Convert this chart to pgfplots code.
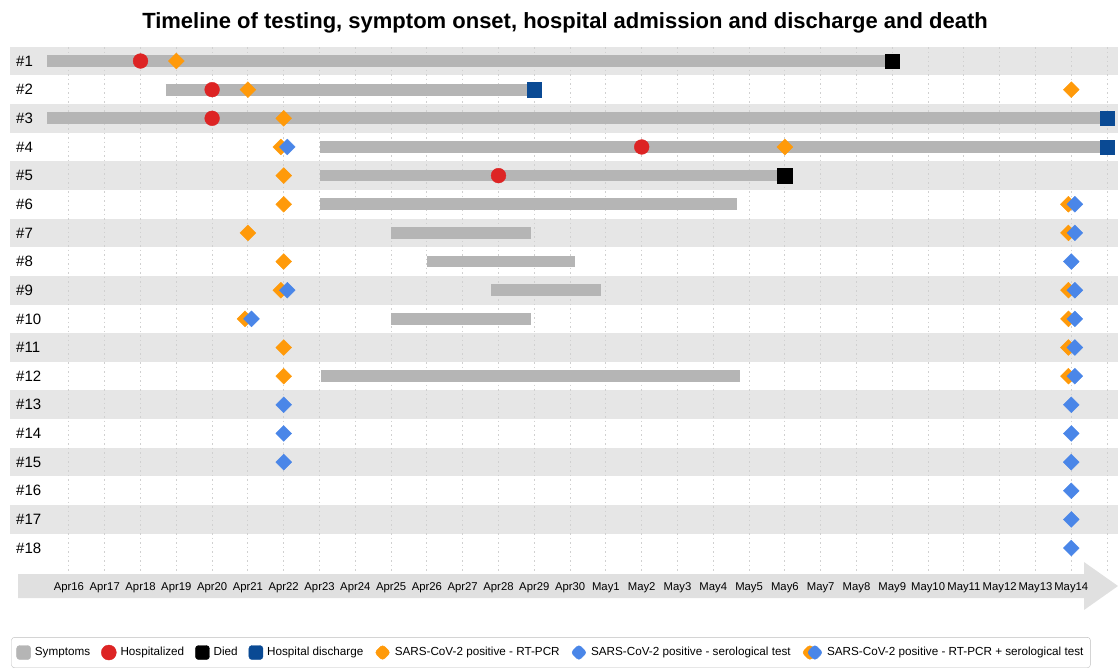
\documentclass[border=0pt]{standalone}
\usepackage{pgfplots}
\pgfplotsset{compat=1.18}
\usepackage{fontspec}
\setmainfont{Liberation Sans}
\definecolor{symcol}{HTML}{B5B5B5}
\definecolor{bandcol}{HTML}{E6E6E6}
\definecolor{arrowcol}{HTML}{E0E0E0}
\definecolor{hospred}{HTML}{DD2424}
\definecolor{rtorange}{HTML}{FF9A0A}
\definecolor{seroblue}{HTML}{4A86E8}
\definecolor{dischblue}{HTML}{0A4A94}
\definecolor{gridcol}{HTML}{D0D0D0}
\definecolor{legframe}{HTML}{BDBDBD}
\begin{document}
\begin{tikzpicture}
% background (pixel units, origin at top-left)
\begin{scope}[x=1pt,y=-1pt]
\foreach \r in {1,3,...,17}{
  \fill[bandcol] (10,{61+(\r-1)*28.65-14.33}) rectangle (1118,{61+(\r-1)*28.65+14.33});
}
\fill[arrowcol] (18,574) -- (1084,574) -- (1084,562) -- (1118,586) -- (1084,610) -- (1084,598) -- (18,598) -- cycle;
\end{scope}
\begin{axis}[
  name=main, at={(0pt,0pt)}, anchor=north west,
  width=1118pt, height=670pt, scale only axis,
  xmin=14.075, xmax=45.305, ymin=-1.129, ymax=22.256, y dir=reverse,
  clip=false,
  axis line style={draw=none}, tick style={draw=none},
  xtick={16,...,44},
  xticklabels={Apr16,Apr17,Apr18,Apr19,Apr20,Apr21,Apr22,Apr23,Apr24,Apr25,Apr26,Apr27,Apr28,Apr29,Apr30,May1,May2,May3,May4,May5,May6,May7,May8,May9,May10,May11,May12,May13,May14},
  xticklabel style={font=\fontsize{11.3}{13}\selectfont, anchor=center, yshift=82pt},
  ytick={1,...,18},
  yticklabels={\#1,\#2,\#3,\#4,\#5,\#6,\#7,\#8,\#9,\#10,\#11,\#12,\#13,\#14,\#15,\#16,\#17,\#18},
  yticklabel style={font=\fontsize{15}{17}\selectfont, anchor=west, inner sep=0pt, xshift=16pt},
  title={Timeline of testing, symptom onset, hospital admission and discharge and death},
  title style={font=\fontsize{22}{26}\selectfont\bfseries, at={(0.5054,1)}, anchor=center, yshift=-28.5pt},
  legend columns=-1,
  legend style={at={(0.4928,0.0261)}, anchor=center, draw=legframe, rounded corners=3pt,
    font=\fontsize{11.7}{13.5}\selectfont, inner xsep=5pt, inner ysep=7pt,
    nodes={text height=0.75em, text depth=0.25em},
    /tikz/every odd column/.append style={column sep=2pt},
    /tikz/every even column/.append style={column sep=9pt}},
  legend image code/.code={},
]
% grid lines
\pgfplotsinvokeforeach{16,...,45}{
  \draw[gridcol, line width=1pt, dash pattern=on 1.5pt off 3pt] (axis cs:#1,0.511) -- (axis cs:#1,18.84);
}
% symptoms (start, end)
\pgfplotsset{symbar/.style={symcol, line width=11.7pt, line cap=butt, forget plot}}
\addplot[symbar] coordinates {(15.4,1) (39,1)};
\addplot[symbar] coordinates {(18.7,2) (29,2)};
\addplot[symbar] coordinates {(15.4,3) (45,3)};
\addplot[symbar] coordinates {(23,4) (45,4)};
\addplot[symbar] coordinates {(23,5) (36,5)};
\addplot[symbar] coordinates {(23,6) (34.65,6)};
\addplot[symbar] coordinates {(25,7) (28.9,7)};
\addplot[symbar] coordinates {(26,8) (30.15,8)};
\addplot[symbar] coordinates {(27.8,9) (30.87,9)};
\addplot[symbar] coordinates {(25,10) (28.9,10)};
\addplot[symbar] coordinates {(23.05,12) (34.75,12)};
% hospitalized
\addplot[only marks, mark=*, mark size=7.4pt, mark options={draw=hospred, fill=hospred}, forget plot]
  coordinates {(18,1) (20,2) (20,3) (32,4) (28,5)};
% died
\addplot[only marks, mark=square*, mark size=7.2pt, mark options={draw=black, fill=black}, forget plot]
  coordinates {(39,1) (36,5)};
% hospital discharge
\addplot[only marks, mark=square*, mark size=7.2pt, mark options={draw=dischblue, fill=dischblue}, forget plot]
  coordinates {(29,2) (45,3) (45,4)};
% RT-PCR positive (combined tests shifted slightly left)
\addplot[only marks, mark=square*, mark size=5.6pt, mark options={rotate=45, draw=rtorange, fill=rtorange}, forget plot]
  coordinates {(19,1) (21,2) (44,2) (22,3) (36,4) (22,5) (22,6) (21,7) (22,8) (22,11) (22,12)
   (21.92,4) (21.92,9) (20.92,10) (43.92,6) (43.92,7) (43.92,9) (43.92,10) (43.92,11) (43.92,12)};
% serological positive (combined tests shifted slightly right)
\addplot[only marks, mark=square*, mark size=5.6pt, mark options={rotate=45, draw=seroblue, fill=seroblue}, forget plot]
  coordinates {(22,13) (22,14) (22,15) (44,8) (44,13) (44,14) (44,15) (44,16) (44,17) (44,18)
   (22.1,4) (22.1,9) (21.1,10) (44.1,6) (44.1,7) (44.1,9) (44.1,10) (44.1,11) (44.1,12)};
% legend
\addlegendimage{legend image code/.code={\fill[symcol] (0pt,-7pt) rectangle (14pt,7pt);}}
\addlegendentry{Symptoms}
\addlegendimage{legend image code/.code={\fill[hospred] (7.5pt,0pt) circle (7.5pt);}}
\addlegendentry{Hospitalized}
\addlegendimage{legend image code/.code={\fill[black] (0pt,-7pt) rectangle (14pt,7pt);}}
\addlegendentry{Died}
\addlegendimage{legend image code/.code={\fill[dischblue] (0pt,-7pt) rectangle (14pt,7pt);}}
\addlegendentry{Hospital discharge}
\addlegendimage{legend image code/.code={\fill[rtorange] (8pt,8pt) -- (16pt,0pt) -- (8pt,-8pt) -- (0pt,0pt) -- cycle;}}
\addlegendentry{SARS-CoV-2 positive - RT-PCR}
\addlegendimage{legend image code/.code={\fill[seroblue] (8pt,8pt) -- (16pt,0pt) -- (8pt,-8pt) -- (0pt,0pt) -- cycle;}}
\addlegendentry{SARS-CoV-2 positive - serological test}
\addlegendimage{legend image code/.code={\fill[rtorange] (8pt,8pt) -- (16pt,0pt) -- (8pt,-8pt) -- (0pt,0pt) -- cycle;
  \fill[seroblue] (13pt,8pt) -- (21pt,0pt) -- (13pt,-8pt) -- (5pt,0pt) -- cycle;}}
\addlegendentry{SARS-CoV-2 positive - RT-PCR + serological test}
\end{axis}
\pgfresetboundingbox
\path[use as bounding box] (0pt,0pt) rectangle (1118pt,-670pt);
\end{tikzpicture}
\end{document}
